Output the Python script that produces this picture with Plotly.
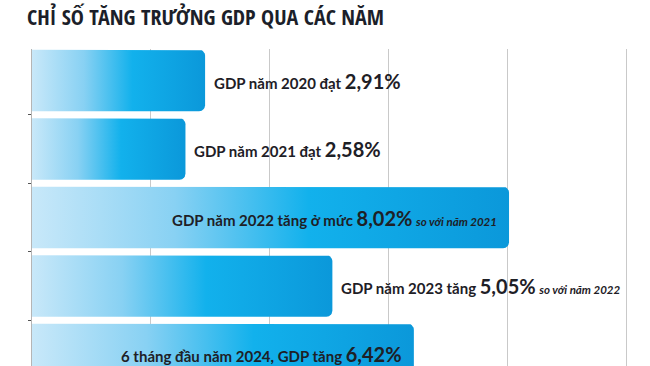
import numpy as np
import plotly.graph_objects as go

# ---- data ----
years = ["2020", "2021", "2022", "2023", "2024"]
values = [2.91, 2.58, 8.02, 5.05, 6.42]
prefixes = ["GDP năm 2020 đạt ", "GDP năm 2021 đạt ", "GDP năm 2022 tăng ở mức ",
            "GDP năm 2023 tăng ", "6 tháng đầu năm 2024, GDP tăng "]
value_labels = ["2,91%", "2,58%", "8,02%", "5,05%", "6,42%"]
suffixes = ["", "", "so với năm 2021", "so với năm 2022", ""]
inside = [False, False, True, False, True]
title = "CHỈ SỐ TĂNG TRƯỞNG GDP QUA CÁC NĂM"

W, H = 650, 366
ML, MT = 32, 49
XMAX = 10.39
Y0, Y1 = -0.46, 4.168
px_x = (W - ML) / XMAX
px_y = (H - MT) / (Y1 - Y0)
bar_h = 0.898
rad = 6
rx, ry = rad / px_x, rad / px_y

fig = go.Figure()
gradient = [[0, "#c8e8f9"], [0.3, "#88d1f3"], [0.58, "#12b1ec"], [1, "#0b98da"]]

for i, v in enumerate(values):
    top, bot = i - bar_h / 2, i + bar_h / 2
    xs, ys = [0, v - rx], [top, top]
    for t in np.linspace(-np.pi / 2, 0, 8):
        xs.append(v - rx + rx * np.cos(t)); ys.append(top + ry + ry * np.sin(t))
    for t in np.linspace(0, np.pi / 2, 8):
        xs.append(v - rx + rx * np.cos(t)); ys.append(bot - ry + ry * np.sin(t))
    xs += [0, 0]; ys += [bot, top]
    fig.add_trace(go.Scatter(
        x=xs, y=ys, mode="lines", fill="toself", line=dict(width=0),
        fillgradient=dict(type="horizontal", colorscale=gradient),
        hoverinfo="skip", showlegend=False))

    txt = prefixes[i] + f"<span style='font-size:20px'>{value_labels[i]}</span>"
    if suffixes[i]:
        txt += f" <i><span style='font-size:11.5px'>{suffixes[i]}</span></i>"
    fig.add_annotation(
        x=v, y=i, xref="x", yref="y", text=txt, showarrow=False,
        xanchor="right" if inside[i] else "left",
        xshift=-10 if inside[i] else 7, yanchor="middle",
        font=dict(family="Lato, Noto Sans, sans-serif", size=15, color="#1e2026", weight=700))

fig.update_layout(
    width=W, height=H, margin=dict(l=ML, r=0, t=MT, b=0),
    paper_bgcolor="white", plot_bgcolor="white",
    title=dict(text=title, x=27 / W, xanchor="left", xref="container",
               y=1 - 17 / H, yanchor="middle", yref="container",
               font=dict(family="Open Sans Condensed, Roboto Condensed, sans-serif",
                         size=22, color="#1c1f2a", weight=700)),
    xaxis=dict(range=[0, XMAX], showgrid=True, gridcolor="#c9c9c9", gridwidth=1,
               dtick=2, tick0=0, zeroline=False, showticklabels=False, ticks=""),
    yaxis=dict(range=[Y1, Y0], showgrid=False, zeroline=False, showline=True,
               linecolor="#b5b5b5", linewidth=1, showticklabels=False,
               tickvals=[0.5, 1.5, 2.5, 3.5], ticks="outside", ticklen=3,
               tickcolor="#555555"),
)

fig.write_html("out.html", config={"displayModeBar": False},
               post_script="document.body.style.margin='0';")
